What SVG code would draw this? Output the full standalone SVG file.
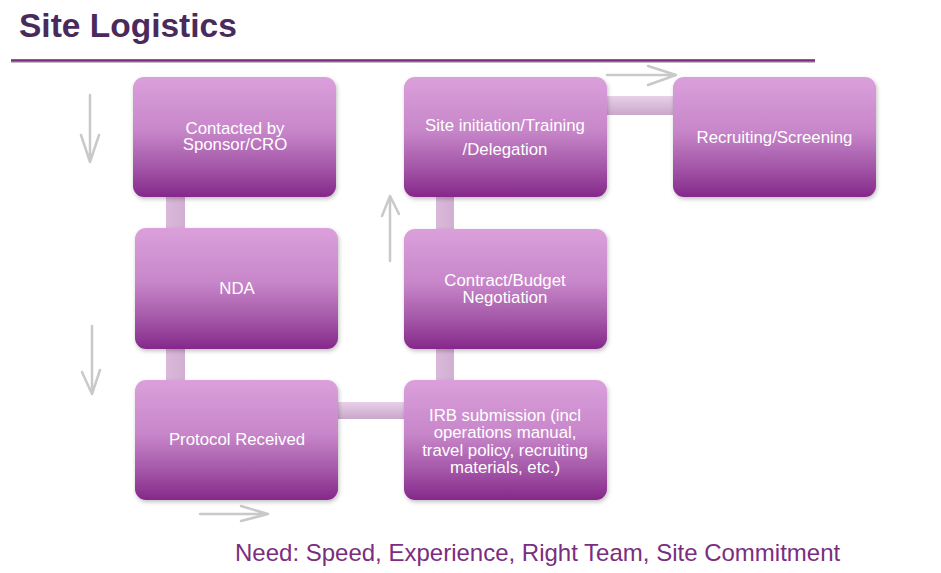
<svg xmlns="http://www.w3.org/2000/svg" width="941" height="573" viewBox="0 0 941 573">
<defs>
<linearGradient id="boxg" x1="0" y1="0" x2="0" y2="1">
<stop offset="0" stop-color="#dba0dc"/>
<stop offset="0.45" stop-color="#c786c9"/>
<stop offset="0.75" stop-color="#a457a8"/>
<stop offset="1" stop-color="#85288a"/>
</linearGradient>
<linearGradient id="hbar" x1="0" y1="0" x2="0" y2="1">
<stop offset="0" stop-color="#e9d0ea"/>
<stop offset="1" stop-color="#c9a7ca"/>
</linearGradient>
<linearGradient id="vbar" x1="0" y1="0" x2="1" y2="0">
<stop offset="0" stop-color="#d9b9d9"/>
<stop offset="1" stop-color="#d2afd2"/>
</linearGradient>
<filter id="sh" x="-10%" y="-10%" width="125%" height="130%">
<feDropShadow dx="1" dy="2" stdDeviation="2" flood-color="#000" flood-opacity="0.25"/>
</filter>
</defs>
<style>
.box{fill:url(#boxg);filter:url(#sh)}
.lbl{font-family:"Liberation Sans",Arial,sans-serif;font-size:16.8px;fill:#ffffff;text-anchor:middle}
.arr{fill:none;stroke:#c9c9c9;stroke-width:2.5;stroke-linecap:round;stroke-linejoin:round}
</style>
<rect width="941" height="573" fill="#ffffff"/>
<text x="19" y="37" font-family="'Liberation Sans',Arial,sans-serif" font-weight="bold" font-size="33.5" fill="#4a2a5c">Site Logistics</text>
<rect x="11" y="61" width="804" height="2" fill="#bdbdbd"/>
<rect x="11" y="59.2" width="804" height="2.4" fill="#7b2e80"/>

<g id="connectors">
<rect x="166" y="190" width="19" height="45" fill="url(#vbar)"/>
<rect x="166" y="342" width="19" height="45" fill="url(#vbar)"/>
<rect x="330" y="402" width="80" height="17" fill="url(#hbar)"/>
<rect x="436" y="342" width="18" height="45" fill="url(#vbar)"/>
<rect x="436" y="190" width="18" height="45" fill="url(#vbar)"/>
<rect x="600" y="96" width="80" height="19" fill="url(#hbar)"/>
<path class="arr" d="M90 95 L90 162 M81 135 L90 162 L99 135"/>
<path class="arr" d="M92 326 L92 394 M82 372 L92 394 L100 370"/>
<path class="arr" d="M200 514 L268 514 M241 506 L268 514 L241 521"/>
<path class="arr" d="M390 261 L390 196 M382 216 L390 196 L399 214"/>
<path class="arr" d="M607 75 L676 75 M648 66 L676 75 L648 85"/>
</g>

<g id="node-contacted">
<rect class="box" x="133" y="77" width="203" height="120" rx="11"/>
<text class="lbl" x="235" y="134">Contacted by</text>
<text class="lbl" x="235" y="150">Sponsor/CRO</text>
</g>
<g id="node-nda">
<rect class="box" x="135" y="228" width="203" height="121" rx="11"/>
<text class="lbl" x="237" y="294">NDA</text>
</g>
<g id="node-protocol">
<rect class="box" x="135" y="380" width="203" height="120" rx="11"/>
<text class="lbl" x="237" y="445">Protocol Received</text>
</g>
<g id="node-irb">
<rect class="box" x="404" y="380" width="203" height="120" rx="11"/>
<text class="lbl" x="505" y="421">IRB submission (incl</text>
<text class="lbl" x="505" y="438">operations manual,</text>
<text class="lbl" x="505" y="456">travel policy, recruiting</text>
<text class="lbl" x="505" y="473">materials, etc.)</text>
</g>
<g id="node-contract">
<rect class="box" x="404" y="229" width="203" height="120" rx="11"/>
<text class="lbl" x="505" y="286">Contract/Budget</text>
<text class="lbl" x="505" y="303">Negotiation</text>
</g>
<g id="node-site">
<rect class="box" x="404" y="77" width="203" height="120" rx="11"/>
<text class="lbl" x="505" y="131">Site initiation/Training</text>
<text class="lbl" x="505" y="155">/Delegation</text>
</g>
<g id="node-recruiting">
<rect class="box" x="673" y="77" width="203" height="120" rx="11"/>
<text class="lbl" x="774.5" y="143">Recruiting/Screening</text>
</g>

<text x="235" y="561" font-family="'Liberation Sans',Arial,sans-serif" font-size="24" fill="#7b2e80">Need: Speed, Experience, Right Team, Site Commitment</text>
</svg>
